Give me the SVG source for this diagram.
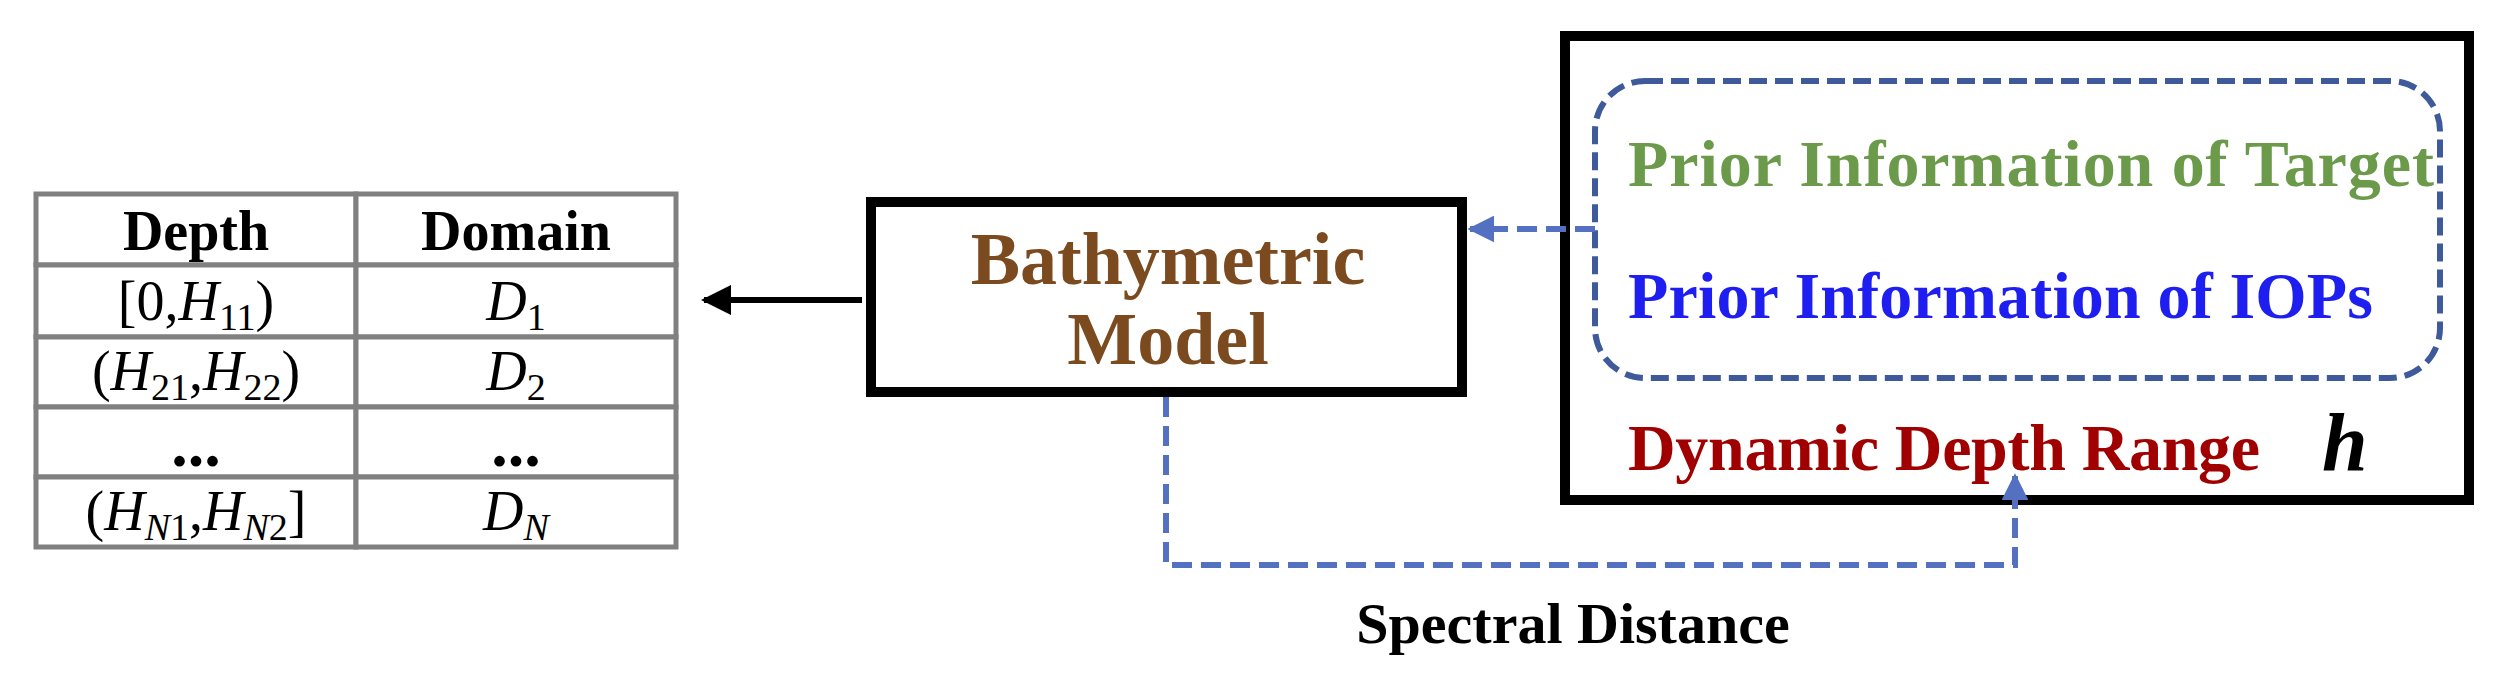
<svg xmlns="http://www.w3.org/2000/svg" width="2509" height="676" viewBox="0 0 2509 676">
<style>
text{font-family:"Liberation Serif","Times New Roman",serif;}
.b{font-weight:bold}
.cell{fill:#fff;stroke:#808080;stroke-width:5}
.t{font-size:56px;text-anchor:middle}
.s{font-size:38px}
.blue{stroke:#5470C0;stroke-width:6;fill:none;stroke-dasharray:20 9}
</style>
<defs>
<marker id="ab" viewBox="0 0 10 10" refX="9" refY="5" markerWidth="5" markerHeight="5" markerUnits="strokeWidth" orient="auto"><path d="M0,0L10,5L0,10z" fill="#000"/></marker>
<marker id="au" viewBox="0 0 10 10" refX="9" refY="5" markerWidth="4.5" markerHeight="4.5" markerUnits="strokeWidth" orient="auto"><path d="M0,0L10,5L0,10z" fill="#5470C0"/></marker>
</defs>
<rect width="2509" height="676" fill="#fff"/>
<g id="table">
<rect class="cell" x="36" y="194" width="320" height="71"/><rect class="cell" x="356" y="194" width="320" height="71"/>
<rect class="cell" x="36" y="265" width="320" height="72"/><rect class="cell" x="356" y="265" width="320" height="72"/>
<rect class="cell" x="36" y="337" width="320" height="70"/><rect class="cell" x="356" y="337" width="320" height="70"/>
<rect class="cell" x="36" y="407" width="320" height="70"/><rect class="cell" x="356" y="407" width="320" height="70"/>
<rect class="cell" x="36" y="477" width="320" height="70"/><rect class="cell" x="356" y="477" width="320" height="70"/>
<text class="t b" x="196" y="250">Depth</text><text class="t b" x="516" y="250">Domain</text>
<text class="t" x="196" y="320">[0,<tspan font-style="italic">H</tspan><tspan class="s" dy="10">11</tspan><tspan dy="-10">)</tspan></text>
<text class="t" x="516" y="320"><tspan font-style="italic">D</tspan><tspan class="s" dy="10">1</tspan></text>
<text class="t" x="196" y="390">(<tspan font-style="italic">H</tspan><tspan class="s" dy="10">21</tspan><tspan dy="-10">,</tspan><tspan font-style="italic">H</tspan><tspan class="s" dy="10">22</tspan><tspan dy="-10">)</tspan></text>
<text class="t" x="516" y="390"><tspan font-style="italic">D</tspan><tspan class="s" dy="10">2</tspan></text>
<text class="b" x="196" y="466" font-size="66" text-anchor="middle">...</text><text class="b" x="516" y="466" font-size="66" text-anchor="middle">...</text>
<text class="t" x="196" y="530">(<tspan font-style="italic">H</tspan><tspan class="s" dy="10" font-style="italic">N</tspan><tspan class="s">1</tspan><tspan dy="-10">,</tspan><tspan font-style="italic">H</tspan><tspan class="s" dy="10" font-style="italic">N</tspan><tspan class="s">2</tspan><tspan dy="-10">]</tspan></text>
<text class="t" x="516" y="530"><tspan font-style="italic">D</tspan><tspan class="s" dy="10" font-style="italic">N</tspan></text>
</g>
<g id="model">
<rect x="871" y="202" width="591" height="190" fill="#fff" stroke="#000" stroke-width="10"/>
<text class="b" x="1168" y="284" font-size="74" fill="#7B4A1E" text-anchor="middle">Bathymetric</text>
<text class="b" x="1168" y="364" font-size="74" fill="#7B4A1E" text-anchor="middle">Model</text>
</g>
<g id="prior">
<rect x="1565" y="36" width="904" height="464" fill="#fff" stroke="#000" stroke-width="10"/>
<rect x="1595" y="81" width="845" height="297" rx="50" fill="none" stroke="#3F5A9A" stroke-width="6" stroke-dasharray="18 8"/>
<text class="b" x="1628" y="186" font-size="66" fill="#6A9A4A" textLength="806">Prior Information of Target</text>
<text class="b" x="1628" y="318" font-size="66" fill="#1E1EF0" textLength="745">Prior Information of IOPs</text>
<text class="b" x="1628" y="470" font-size="66" fill="#A00000" textLength="632">Dynamic Depth Range</text>
<text class="b" x="2322" y="470" font-size="82" font-style="italic" fill="#000">h</text>
</g>
<g id="connectors">
<line x1="862" y1="300" x2="704" y2="300" stroke="#000" stroke-width="6" marker-end="url(#ab)"/>
<line class="blue" x1="1595" y1="229" x2="1470" y2="229" marker-end="url(#au)"/>
<polyline class="blue" points="1166,397 1166,565 2015,565 2015,476" marker-end="url(#au)"/>
</g>
<text class="b" x="1573" y="643" font-size="58" text-anchor="middle">Spectral Distance</text>
</svg>
